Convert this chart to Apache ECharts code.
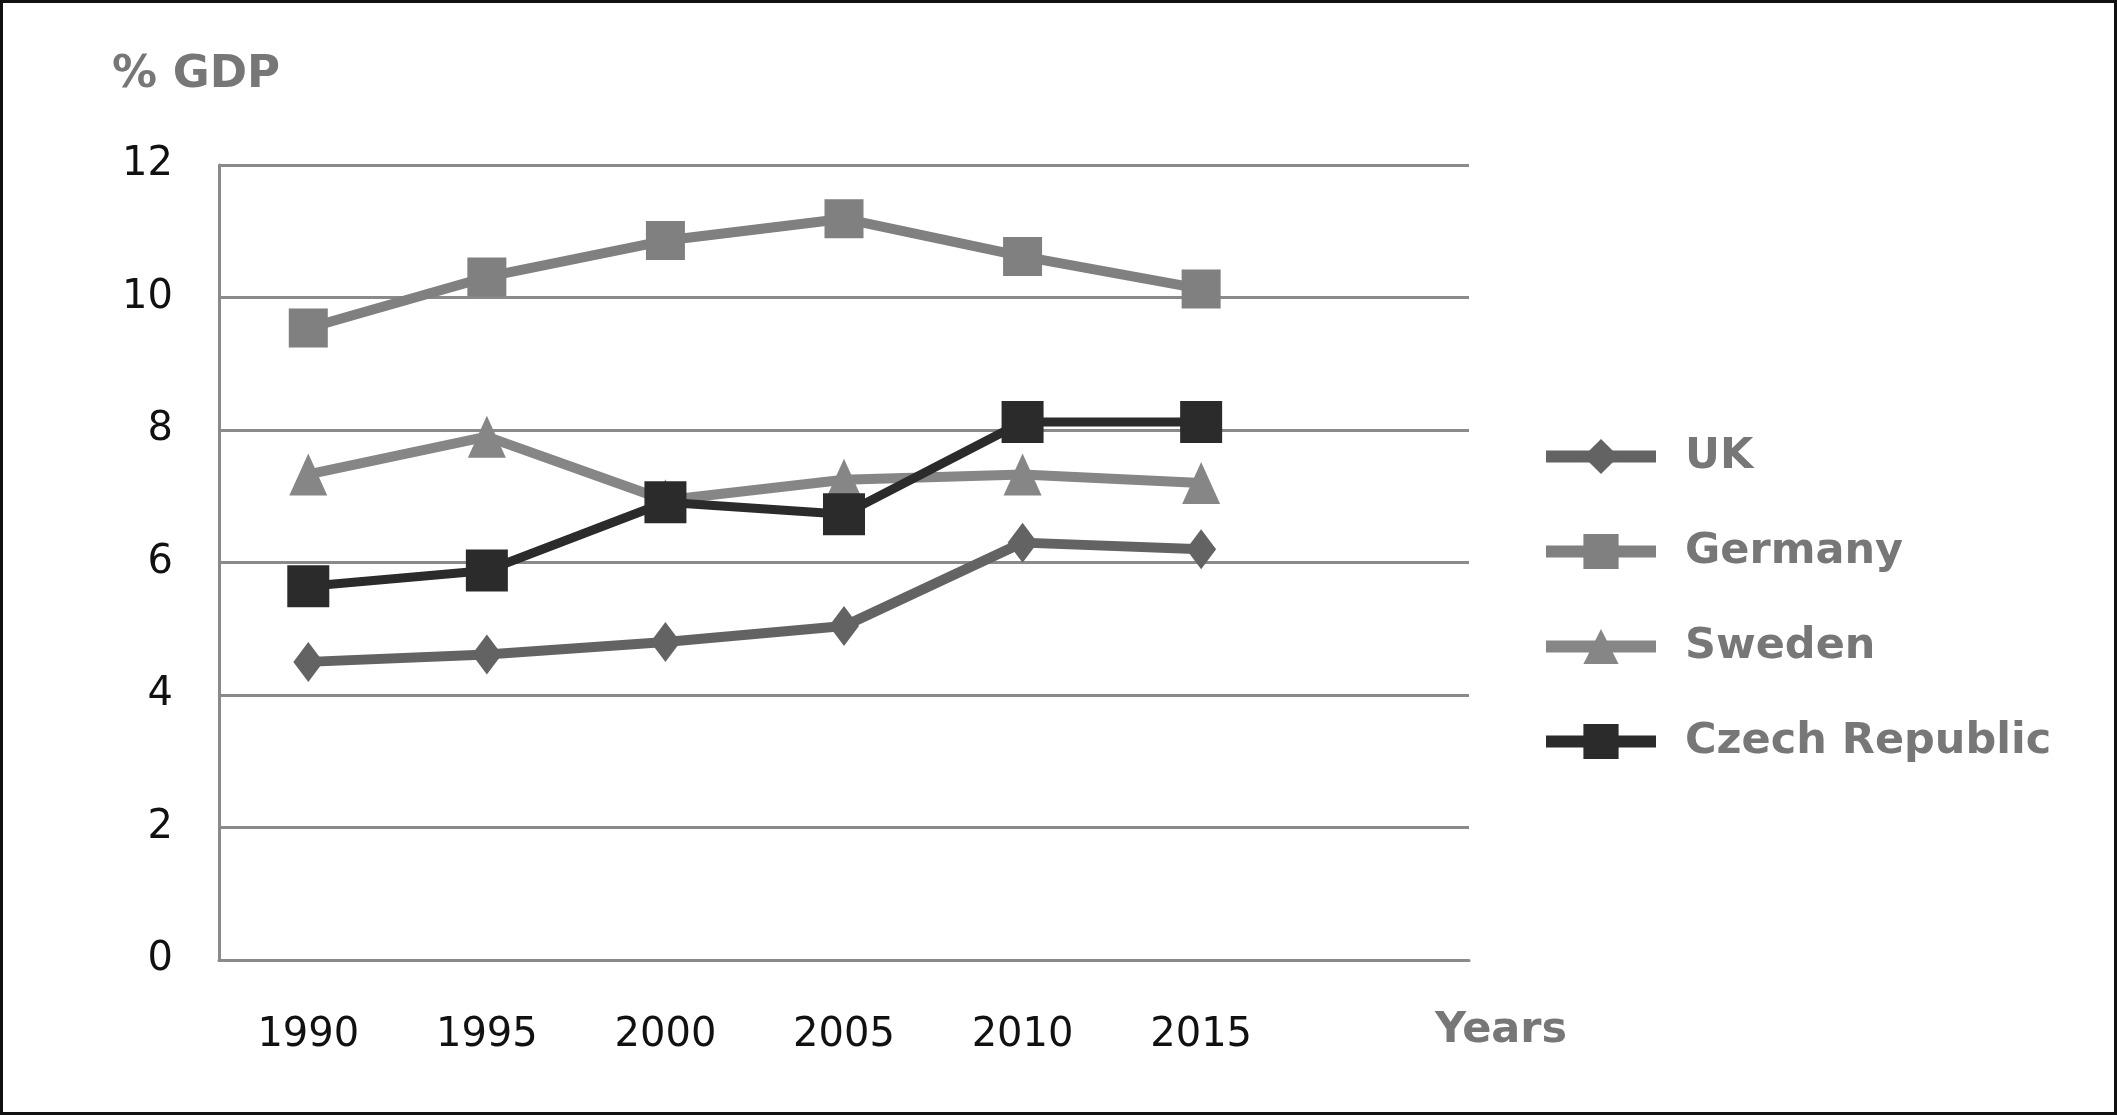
<!DOCTYPE html>
<html>
<head>
<meta charset="utf-8">
<script src="https://cdn.jsdelivr.net/npm/echarts@6/dist/echarts.min.js"></script>
<style>
html,body{margin:0;padding:0;background:#fff;}
#frame{position:absolute;left:0;top:0;width:2117px;height:1115px;box-sizing:border-box;border:3px solid #111;background:#fff;}
#chart{position:absolute;left:0;top:0;width:2117px;height:1115px;}
</style>
</head>
<body>
<div id="frame"></div>
<div id="chart"></div>
<script>
const years = ['1990', '1995', '2000', '2005', '2010', '2015'];
const yTicks = [0, 2, 4, 6, 8, 10, 12];
const uk = [4.50, 4.61, 4.80, 5.04, 6.30, 6.20];
const germany = [9.54, 10.31, 10.86, 11.19, 10.62, 10.13];
const sweden = [7.33, 7.90, 6.94, 7.25, 7.33, 7.20];
const czech = [5.64, 5.88, 6.91, 6.73, 8.12, 8.12];

const FONT = 'DejaVu Sans';
const chart = echarts.init(document.getElementById('chart'), null, {renderer: 'canvas'});

function lineSeries(name, data, color, symbol, size, width) {
  return {
    name: name, type: 'line', data: data,
    symbol: symbol, symbolSize: size, showSymbol: true,
    lineStyle: {color: color, width: width},
    itemStyle: {color: color},
    emphasis: {disabled: true},
    animation: false
  };
}

chart.setOption({
  backgroundColor: 'transparent',
  animation: false,
  grid: {left: 219, top: 165, width: 1250, height: 795, containLabel: false},
  xAxis: {
    type: 'category',
    data: years.concat(['']),
    boundaryGap: true,
    axisLine: {show: true, lineStyle: {color: '#8a8a8a', width: 3}},
    axisTick: {show: false},
    axisLabel: {color: '#111', fontFamily: FONT, fontSize: 40, margin: 56},
    splitLine: {show: false}
  },
  yAxis: {
    type: 'value',
    min: 0, max: 12, interval: 2,
    name: '% GDP',
    nameLocation: 'end',
    nameGap: 67,
    nameTextStyle: {color: '#777', fontFamily: FONT, fontWeight: 'bold', fontSize: 45, padding: [0, 46, 0, 0]},
    axisLine: {show: true, lineStyle: {color: '#8a8a8a', width: 3}},
    axisTick: {show: false},
    axisLabel: {color: '#111', fontFamily: FONT, fontSize: 40, margin: 46,
      formatter: function (v) { return yTicks.indexOf(v) >= 0 ? String(v) : ''; }},
    splitLine: {show: true, lineStyle: {color: '#8a8a8a', width: 3}}
  },
  graphic: [{
    type: 'text',
    left: 1435, top: 1009,
    style: {text: 'Years', fill: '#777', font: 'bold 43px "DejaVu Sans"'}
  }],
  legend: {
    orient: 'vertical',
    left: 1535, top: 430,
    itemWidth: 110, itemHeight: 44, itemGap: 52,
    selectedMode: false,
    lineStyle: {width: 12},
    textStyle: {color: '#777', fontFamily: FONT, fontWeight: 'bold', fontSize: 43, padding: [0, 0, 0, 24]},
    data: ['UK', 'Germany', 'Sweden', 'Czech Republic']
  },
  series: [
    lineSeries('UK', uk, '#636363', 'diamond', [30, 40], 10),
    lineSeries('Germany', germany, '#808080', 'rect', 39, 10),
    lineSeries('Sweden', sweden, '#868686', 'triangle', [38, 42], 10),
    lineSeries('Czech Republic', czech, '#2b2b2b', 'rect', 42, 9)
  ]
});
</script>
</body>
</html>
